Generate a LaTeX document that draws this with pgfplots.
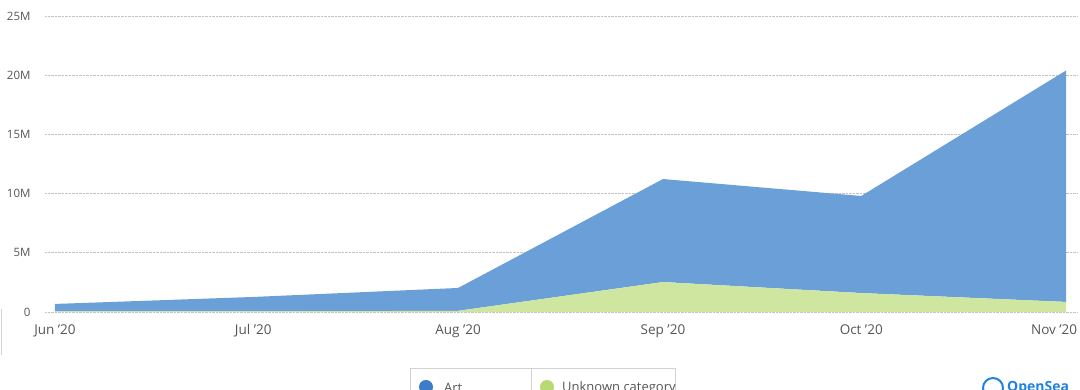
\documentclass[border=0pt]{standalone}
\usepackage{fontspec}
\setmainfont{Open Sans}
\usepackage{pgfplots}
\usepackage{pgfplotstable}
\pgfplotsset{compat=1.18}
\definecolor{artfill}{HTML}{6A9FD8}
\definecolor{unkfill}{HTML}{CFE6A0}
\definecolor{artdot}{HTML}{3B7DCB}
\definecolor{unkdot}{HTML}{B8DA72}
\definecolor{labgray}{HTML}{555555}
\definecolor{gridgray}{HTML}{C4C4C4}
\definecolor{osblue}{HTML}{2081E2}
\pgfplotstableread{
day art unk
0 0.63 0.05
30 1.22 0.05
61 1.93 0.10
92 8.70 2.53
122 8.20 1.60
153 19.55 0.85
}\data
\begin{document}
\begin{tikzpicture}[x=1pt,y=1pt]
\useasboundingbox (0,0) rectangle (1080,390);
\begin{axis}[
  at={(45pt,78pt)}, anchor=south west, scale only axis,
  width=1033pt, height=296pt,
  xmin=-1.51, xmax=154.8, ymin=0, ymax=25,
  axis line style={draw=none}, tick style={draw=none},
  ytick={0,5,10,15,20,25}, yticklabels={0,5M,10M,15M,20M,25M},
  ymajorgrids, grid style={gridgray, densely dotted, line width=0.8pt},
  xtick={0,30,61,92,122}, xticklabels={Jun '20,Jul '20,Aug '20,Sep '20,Oct '20},
  extra x ticks={153}, extra x tick labels={Nov '20},
  extra x tick style={grid=none, xticklabel style={xshift=-12pt}},
  xticklabel style={font=\fontsize{13.5}{15}\selectfont, text=labgray, yshift=-9pt},
  yticklabel style={font=\fontsize{11.5}{13}\selectfont, text=labgray, anchor=east, xshift=-11pt},
  stack plots=y, clip=false,
]
\addplot[fill=unkfill, draw=none] table[x=day,y=unk]{\data} \closedcycle;
\addplot[fill=artfill, draw=none] table[x=day,y=art]{\data} \closedcycle;
\end{axis}
\draw[gray!35] (1,35) -- (1,81);
% legend
\draw[gray!35] (410,22) rectangle (675,-20);
\draw[gray!35] (531,22) -- (531,-20);
\fill[artdot] (426,3) circle (7);
\node[anchor=west, text=labgray, font=\fontsize{13}{15}\selectfont, inner sep=0] at (444,2) {Art};
\fill[unkdot] (547,3) circle (7);
\node[anchor=west, text=labgray, font=\fontsize{13}{15}\selectfont, inner sep=0] at (562,2) {Unknown category};
% logo
\draw[osblue, line width=2pt] (993,2) circle (10);
\node[anchor=west, text=osblue, font=\fontsize{14}{16}\selectfont\bfseries, inner sep=0] at (1007,2) {OpenSea};
\end{tikzpicture}
\end{document}
